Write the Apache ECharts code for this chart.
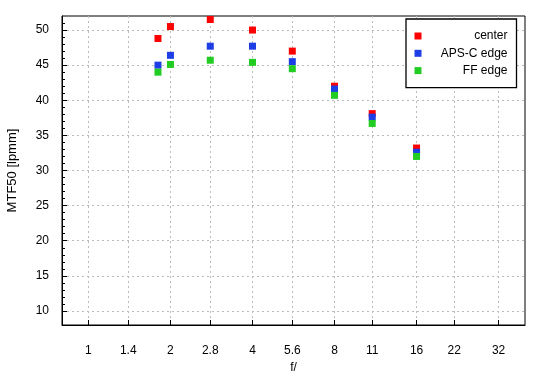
<!DOCTYPE html>
<html><head><meta charset="utf-8">
<script src="https://cdn.jsdelivr.net/npm/echarts@6/dist/echarts.min.js"></script>
<style>html,body{margin:0;padding:0;background:#fff}#c{width:550px;height:380px}</style>
</head><body><div id="c"></div>
<script>
const fStops = [1.8, 2, 2.8, 4, 5.6, 8, 11, 16];
const center = [48.8, 50.5, 51.5, 50.0, 47.0, 42.0, 38.1, 33.2];
const apsc = [45.0, 46.4, 47.7, 47.7, 45.5, 41.6, 37.6, 32.6];
const ff = [44.0, 45.1, 45.7, 45.4, 44.5, 40.7, 36.7, 32.0];
const xTicks = [1, 1.4, 2, 2.8, 4, 5.6, 8, 11, 16, 22, 32];
const yTicks = [10, 15, 20, 25, 30, 35, 40, 45, 50];
const yMinor = [];
for (let v = 11; v < 52; v++) if (v % 5 !== 0) yMinor.push(v);
const seriesNames = ['center', 'APS-C edge', 'FF edge'];
const colors = ['#ff0000', '#1c3ee4', '#22cc22'];
const sets = [center, apsc, ff];

const font = 'Liberation Sans, Arial, sans-serif';
const chart = echarts.init(document.getElementById('c'), null, {renderer: 'canvas'});
chart.setOption({
  animation: false,
  textStyle: {fontFamily: font},
  grid: {left: 62, top: 16, right: 25, bottom: 55, show: true, borderColor: '#000', borderWidth: 1,
    containLabel: false, outerBoundsMode: 'none'},
  legend: {
    orient: 'vertical', left: 406, top: 19,
    itemWidth: 7, itemHeight: 7, itemGap: 3.3, icon: 'rect',
    padding: [10, 9, 10, 8.5],
    backgroundColor: '#fff', borderColor: '#000', borderWidth: 1.3,
    formatter: n => '{a|' + n + '}',
    textStyle: {fontFamily: font, fontSize: 12, color: '#000', lineHeight: 14,
      rich: {a: {width: 81, align: 'right', fontSize: 12, fontFamily: font, color: '#000', lineHeight: 14}}},
    data: seriesNames
  },
  xAxis: {
    type: 'log', logBase: 10, min: 0.8, max: 40,
    name: 'f/', nameLocation: 'middle', nameGap: 36,
    nameTextStyle: {fontFamily: font, fontSize: 12, color: '#000'},
    axisLine: {show: true, lineStyle: {color: '#000', width: 1}},
    axisTick: {show: true, inside: true, length: 5, customValues: xTicks, lineStyle: {color: '#000'}},
    axisLabel: {customValues: xTicks, formatter: v => String(v), margin: 20, fontFamily: font, fontSize: 12, color: '#000'},
    splitLine: {show: true, lineStyle: {color: '#bbbbbb', type: [2, 3], width: 1}},
    minorTick: {show: false}
  },
  yAxis: [{
    type: 'value', min: 8, max: 52,
    name: 'MTF50 [lpmm]', nameLocation: 'middle', nameGap: 43, nameRotate: 90,
    nameTextStyle: {fontFamily: font, fontSize: 13, color: '#000'},
    axisLine: {show: true, lineStyle: {color: '#000', width: 1}},
    axisTick: {show: true, inside: true, length: 5, customValues: yTicks, lineStyle: {color: '#000'}},
    axisLabel: {customValues: yTicks, margin: 13, fontFamily: font, fontSize: 12, color: '#000'},
    splitLine: {show: true, lineStyle: {color: '#bbbbbb', type: [2, 3], width: 1}}
  }, {
    type: 'value', min: 8, max: 52, position: 'left', offset: 0,
    axisLine: {show: false},
    axisTick: {show: true, inside: true, length: 3, customValues: yMinor, lineStyle: {color: '#000'}},
    axisLabel: {show: false},
    splitLine: {show: false}
  }],
  series: sets.map((s, i) => ({
    name: seriesNames[i], type: 'scatter', symbol: 'rect', symbolSize: 7,
    itemStyle: {color: colors[i], opacity: 1}, yAxisIndex: 0,
    data: fStops.map((f, j) => [f, s[j]])
  }))
});
</script></body></html>
